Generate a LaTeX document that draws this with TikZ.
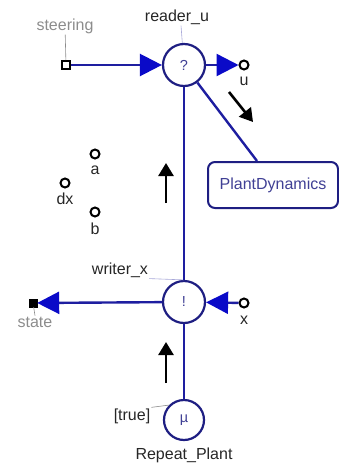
\documentclass[tikz,border=0pt]{standalone}
\usepackage{fontspec}
\setmainfont{Liberation Sans}
\usetikzlibrary{arrows.meta,positioning}

\definecolor{linkblue}{HTML}{1E1EA0}
\definecolor{tipblue}{HTML}{0A0AC8}
\definecolor{nodenavy}{HTML}{1E1E82}
\definecolor{labelgray}{HTML}{8C8C8C}
\definecolor{leadblue}{HTML}{A8A8D8}

\begin{document}
\begin{tikzpicture}[x=1pt, y=-1pt,
    proc/.style = {draw=nodenavy, circle, line width=2.2pt, minimum size=42pt,
                   inner sep=0pt, fill=white, text=nodenavy!85,
                   font=\fontsize{14.5}{17}\selectfont},
    plant/.style = {draw=nodenavy, rectangle, rounded corners=7pt, line width=2pt,
                    minimum width=130pt, minimum height=46pt, fill=white,
                    text=nodenavy!85, font=\fontsize{16}{19}\selectfont},
    pin/.style = {draw=black, circle, line width=2pt, minimum size=9pt,
                  inner sep=0pt, fill=white},
    inbox/.style = {draw=black, rectangle, line width=1.6pt, minimum size=8pt,
                    inner sep=0pt, fill=white},
    outbox/.style = {draw=black, rectangle, fill=black, minimum size=8pt, inner sep=0pt},
    lbl/.style = {inner sep=1pt, text=black!85, font=\fontsize{16}{19}\selectfont},
    link/.style = {draw=linkblue, line width=2.4pt},
    sig/.style = {link, -{Triangle[length=22pt, width=22pt, color=tipblue]}},
    lead/.style = {draw=labelgray, line width=0.6pt},
    flow/.style = {draw=black, line width=2.6pt, -{Triangle[length=13pt, width=15pt]}}
  ]
  \useasboundingbox (0,0) rectangle (339,466);

  % process nodes
  \node[proc] (reader) at (184,65)  {?};
  \node[proc] (writer) at (184,302) {!};
  \node[proc, minimum size=40pt] (repeat) at (184,420) {µ};
  \node[plant] (plant) at (273,185) {PlantDynamics};

  % ports
  \node[inbox]  (steering) at (66,65)  {};
  \node[outbox] (state)    at (33,303) {};
  \node[pin] (u)  at (244,65)  {};
  \node[pin] (a)  at (95,154)  {};
  \node[pin] (dx) at (65,183)  {};
  \node[pin] (b)  at (95,212)  {};
  \node[pin] (x)  at (244,303) {};

  % labels
  \node[lbl, text=labelgray] (steeringlbl) at (65,26)  {steering};
  \node[lbl] (readerlbl) at (177,17)  {reader\_u};
  \node[lbl] (ulbl)      at (244,81)  {u};
  \node[lbl] (albl)      at (95,170)  {a};
  \node[lbl] (dxlbl)     at (65,199)  {dx};
  \node[lbl] (blbl)      at (95,229)  {b};
  \node[lbl] (writerlbl) at (120,270) {writer\_x};
  \node[lbl, text=labelgray] (statelbl) at (35,322) {state};
  \node[lbl] (xlbl)      at (244,320) {x};
  \node[lbl] (truelbl)   at (132,416) {[true]};
  \node[lbl] (repeatlbl) at (184,455) {Repeat\_Plant};

  % leader lines
  \draw[lead] (steeringlbl) -- (steering);
  \draw[lead, draw=leadblue] ([xshift=4pt]readerlbl.south) -- (reader);
  \draw[lead, draw=leadblue] (writerlbl.south east) -- (writer.north);
  \draw[lead] (state) -- (statelbl.north);
  \draw[lead] (truelbl.north east) -- (repeat.north west);

  % connectors
  \draw[link] (reader) -- (writer);
  \draw[link] (writer) -- (repeat);
  \draw[link] (reader) -- ([xshift=-16pt]plant.north);
  \draw[sig] (steering) -- (reader);
  \draw[sig] (reader) -- (u);
  \draw[sig] (writer) -- (state);
  \draw[sig] (x) -- (writer);

  % flow arrows
  \coordinate (f1a) at (229,92);
  \coordinate (f1b) at (253,122);
  \coordinate (f2a) at (166,203);
  \coordinate (f2b) at (166,163);
  \coordinate (f3a) at (166,383);
  \coordinate (f3b) at (166,342);
  \draw[flow] (f1a) -- (f1b);
  \draw[flow] (f2a) -- (f2b);
  \draw[flow] (f3a) -- (f3b);
\end{tikzpicture}
\end{document}
